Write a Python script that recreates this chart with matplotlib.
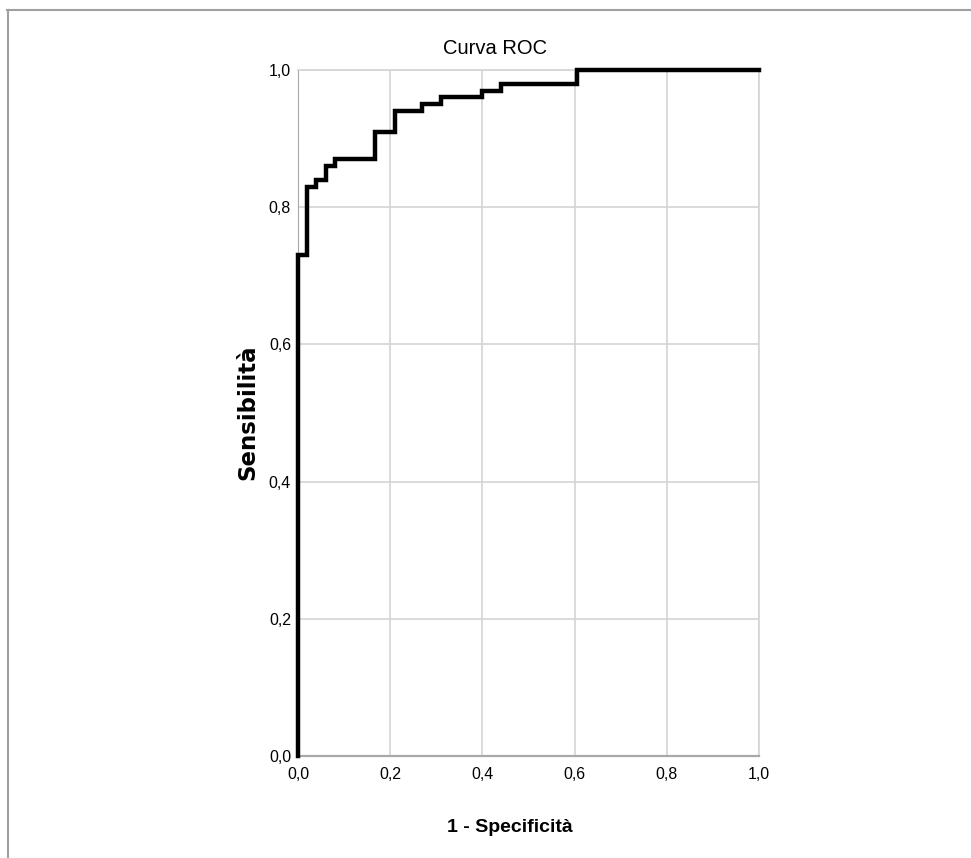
import matplotlib.pyplot as plt
from matplotlib.lines import Line2D

# ROC curve (1 - specificity, sensitivity)
fpr = [0.0, 0.0, 0.02, 0.04, 0.06, 0.08, 0.167, 0.21, 0.27, 0.31, 0.40, 0.44, 0.605, 1.0]
tpr = [0.0, 0.73, 0.83, 0.84, 0.86, 0.87, 0.91, 0.94, 0.95, 0.96, 0.97, 0.98, 1.0, 1.0]
ticks = [0.0, 0.2, 0.4, 0.6, 0.8, 1.0]
tick_labels = ["0,0", "0,2", "0,4", "0,6", "0,8", "1,0"]

sans = "Liberation Sans"
W, H = 971, 858

fig = plt.figure(figsize=(W / 100, H / 100), dpi=100)
ax = fig.add_axes([298 / W, 1 - 756 / H, (759 - 298) / W, (756 - 70) / H])

ax.step(fpr, tpr, where="post", color="black", lw=3.2, clip_on=False,
        solid_joinstyle="miter", zorder=5)

ax.set_xlim(0, 1)
ax.set_ylim(0, 1)
ax.set_xticks(ticks)
ax.set_yticks(ticks)
ax.set_xticklabels(tick_labels, family=sans, fontsize=11.5)
ax.set_yticklabels(tick_labels, family=sans, fontsize=11.5)
ax.tick_params(length=0)
ax.tick_params(axis="x", pad=8)
ax.tick_params(axis="y", pad=5)
ax.grid(True, color="#d4d4d4", lw=1.2)
ax.set_axisbelow(True)
for s in ["top", "right"]:
    ax.spines[s].set_color("#d4d4d4")
    ax.spines[s].set_linewidth(1.2)
ax.spines["bottom"].set_color("#a8a8a8")
ax.spines["bottom"].set_linewidth(1.6)
ax.spines["left"].set_color("#a8a8a8")

fig.text(495 / W, 1 - 49 / H, "Curva ROC", family=sans, fontsize=14.5,
         ha="center", va="center")
fig.text(510 / W, 1 - 827 / H, "1 - Specificità", family=sans, fontsize=14,
         fontweight="bold", ha="center", va="center")
fig.text(248 / W, 1 - 412 / H, "Sensibilità", family="DejaVu Sans", fontsize=16.5,
         fontweight="bold", rotation=90, ha="center", va="center")

# outer frame: top and left edges only
fig.add_artist(Line2D([7 / W, 1], [1 - 10 / H, 1 - 10 / H], color="#a0a0a0", lw=1.5))
fig.add_artist(Line2D([7.5 / W, 7.5 / W], [0, 1 - 10 / H], color="#a0a0a0", lw=1.5))

fig.savefig("out.png", dpi=100)
